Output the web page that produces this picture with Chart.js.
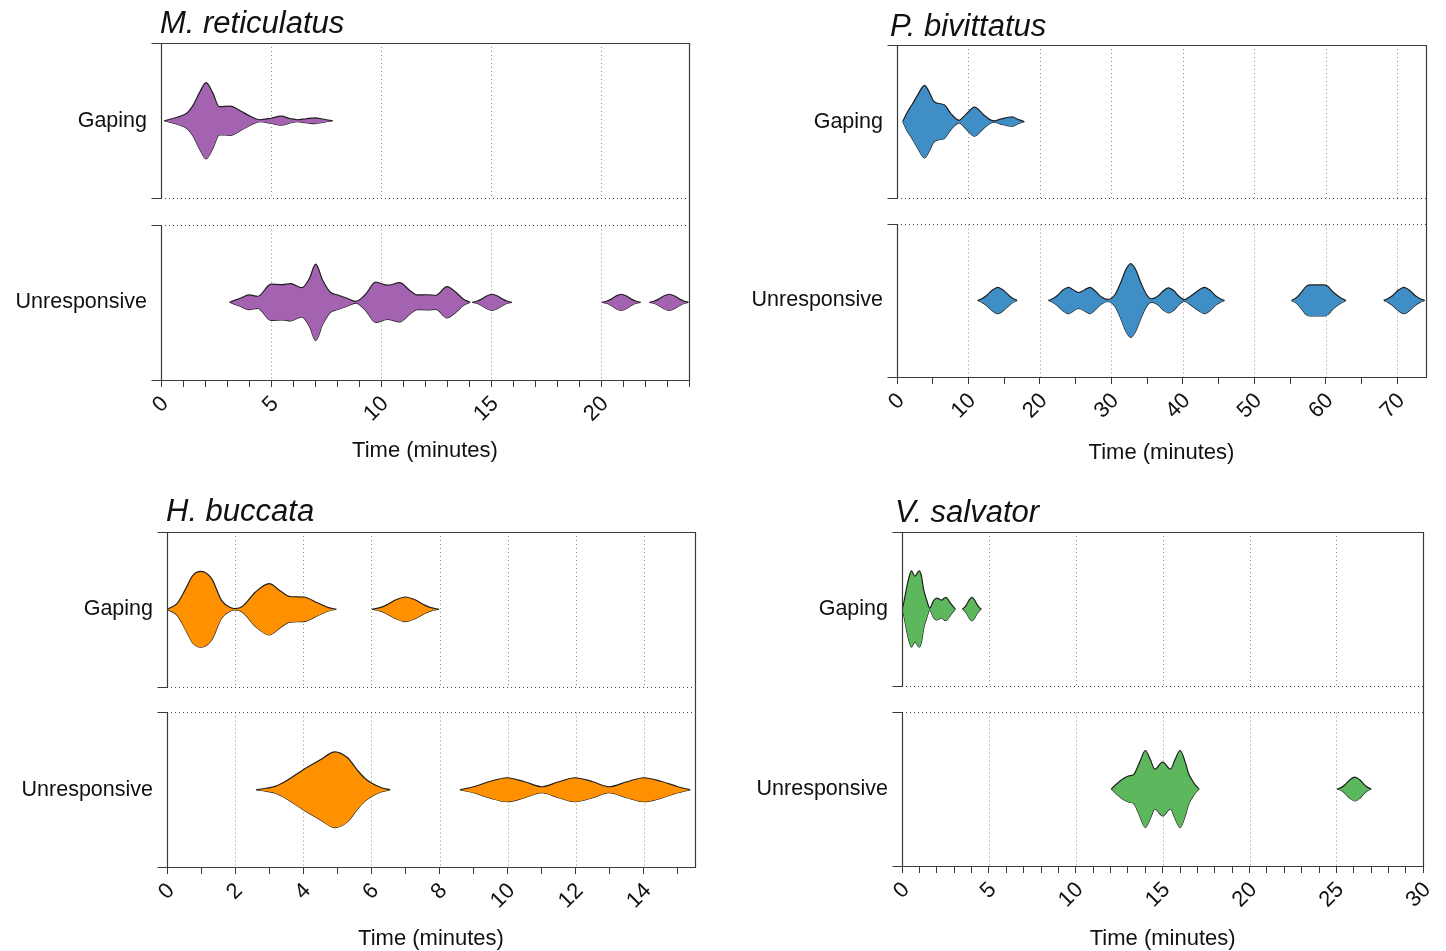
<!DOCTYPE html>
<html>
<head>
<meta charset="utf-8">
<title>Gaping and unresponsive duration</title>
<script src="https://cdn.jsdelivr.net/npm/chart.js@4.4.1/dist/chart.umd.min.js"></script>
<style>
  html, body { margin: 0; padding: 0; background: #fff; }
  .panel { position: absolute; }
</style>
</head>
<body>
<div class="panel" style="left:0;top:0"><canvas id="c1" width="723" height="476"></canvas></div>
<div class="panel" style="left:723px;top:0"><canvas id="c2" width="723" height="476"></canvas></div>
<div class="panel" style="left:0;top:476px"><canvas id="c3" width="723" height="475"></canvas></div>
<div class="panel" style="left:723px;top:476px"><canvas id="c4" width="723" height="475"></canvas></div>
<script>
// species and row labels
const species = ['M. reticulatus', 'P. bivittatus', 'H. buccata', 'V. salvator'];
const rowLabels = ['Unresponsive', 'Gaping'];

// x axis (minutes)
const xMax = [24, 74, 15.5, 30];
const xMinorStep = [1, 5, 1, 1];
const xLabelStep = [5, 10, 2, 5];

// violins: each one is a list of [time, half width of the density]
const mretGaping = [
  [[0.15,0],[0.8,4],[1.2,8],[1.45,15],[1.75,28],[2.05,38],[2.35,28],[2.65,14],[3.15,14.5],[3.6,10],[4.1,4],[4.5,1],[5.0,2.5],[5.45,4.5],[5.9,2],[6.2,1],[6.6,2],[7.0,2.8],[7.4,1.5],[7.8,0]]
];
const mretUnresp = [
  [[3.12,0],[3.6,4],[4.0,7.3],[4.4,6],[5.0,18],[5.5,17.5],[5.9,18.5],[6.4,14.5],[6.75,24],[7.03,38],[7.35,22],[7.7,10],[8.0,7.5],[8.45,4],[8.85,0.8],[9.3,8],[9.75,20],[10.3,17],[10.85,19.5],[11.3,12],[11.65,7.3],[12.1,7.5],[12.5,7],[13.0,15.5],[13.4,10],[13.75,3],[14.05,0]],
  [[14.15,0],[14.35,1],[14.55,2.9],[14.8,6.2],[15.05,8],[15.3,6.2],[15.55,2.9],[15.75,1],[15.95,0]],
  [[20.05,0],[20.25,1],[20.45,2.9],[20.68,6.2],[20.92,8],[21.16,6.2],[21.4,2.9],[21.6,1],[21.8,0]],
  [[22.2,0],[22.4,1],[22.6,2.9],[22.85,6.2],[23.1,8],[23.35,6.2],[23.6,2.9],[23.8,1],[23.97,0]]
];

const pbivGaping = [
  [[0.8,0],[1.4,9],[2.1,17],[2.9,27],[3.85,36.7],[4.5,30],[5.1,21],[5.7,18.5],[6.6,17],[7.6,7.5],[8.7,1.3],[9.6,7],[10.85,14.7],[12.1,7],[13.0,2],[13.6,0.7],[14.5,2.5],[16.1,4.7],[17.0,2],[17.8,0]]
];
const pbivUnresp = [
  [[11.3,0],[11.85,1.7],[12.5,4.8],[13.32,10.3],[14.1,13.3],[14.88,10.3],[15.7,4.8],[16.3,1.7],[16.8,0]],
  [[21.2,0],[21.7,1.5],[22.4,4.8],[23.2,10.3],[24.0,13.3],[24.7,10.5],[25.4,8],[26.2,10.5],[27.0,13.3],[27.8,9],[28.6,3.5],[29.5,1],[30.5,6],[31.4,20],[32.0,31],[32.7,37.3],[33.4,31],[34.0,20],[34.9,6],[35.6,1.7],[36.6,5],[37.3,10],[38.0,12.7],[38.7,10],[39.4,4.5],[40.2,0.8],[41.0,4],[42.2,10.3],[43.0,13.3],[43.8,10.3],[44.6,4.5],[45.3,1.5],[45.8,0]],
  [[55.2,0],[55.9,3],[56.6,8.5],[57.2,14],[57.7,15.7],[59.8,15.7],[60.3,14],[61.0,8.5],[62.0,3],[62.8,0]],
  [[68.1,0],[68.65,1.7],[69.3,4.8],[70.12,10.3],[70.9,13.3],[71.68,10.3],[72.5,4.8],[73.2,1.7],[73.8,0]]
];

const hbucGaping = [
  [[0.0,0],[0.3,6],[0.55,20.7],[0.76,34],[1.0,38],[1.31,30.7],[1.6,9],[1.86,1.7],[2.0,0.7],[2.22,3],[2.6,17.3],[3.0,25.7],[3.33,18.3],[3.6,12.8],[4.0,12.3],[4.43,6.3],[4.74,1.7],[4.97,0]],
  [[6.02,0],[6.25,1.6],[6.45,4.4],[6.72,9.5],[7.0,12.3],[7.28,9.5],[7.55,4.4],[7.75,1.6],[7.98,0]]
];
const hbucUnresp = [
  [[2.62,0],[2.9,1.5],[3.17,3.3],[3.6,11],[4.0,20],[4.5,30],[4.93,38],[5.3,32],[5.58,20],[5.8,11.7],[6.0,6.7],[6.3,2],[6.55,0]],
  [[8.6,0],[9.0,3],[9.5,8.5],[9.98,12],[10.5,8],[11.0,3],[11.5,8],[11.97,12],[12.5,8],[12.98,3],[13.5,8],[14.0,12],[14.5,8.5],[15.0,3],[15.36,0]]
];

const vsalGaping = [
  [[0.02,0],[0.12,8],[0.27,21.7],[0.42,33],[0.54,38.3],[0.74,33],[0.99,38.3],[1.12,33],[1.24,20],[1.42,9],[1.6,1],[1.81,8.3],[2.0,11],[2.27,9],[2.51,11.7],[2.83,5],[3.07,0]],
  [[3.48,0],[3.6,1.7],[3.72,4.5],[3.86,9],[4.02,11.7],[4.18,9],[4.32,4.5],[4.44,1.7],[4.56,0]]
];
const vsalUnresp = [
  [[12.05,0],[12.35,5],[12.7,10],[13.03,13],[13.35,15],[13.7,28],[14.0,38.7],[14.28,30],[14.55,20],[15.0,27],[15.45,20],[15.72,30],[16.0,38.7],[16.3,27],[16.5,15],[16.7,8.7],[16.9,3.5],[17.1,0]],
  [[25.05,0],[25.3,1.6],[25.5,4.4],[25.78,9.3],[26.06,12],[26.34,9.3],[26.6,4.4],[26.8,1.6],[27.0,0]]
];

const gapingData = [mretGaping, pbivGaping, hbucGaping, vsalGaping];
const unrespData = [mretUnresp, pbivUnresp, hbucUnresp, vsalUnresp];
const colors = ['#A463B0', '#3F8FC6', '#FF9100', '#5DB75D'];

// layout of the four panels (chart area inside each canvas)
const panels = [
  { id: 'c1', w: 723, h: 476, area: { l: 161, t: 43, r: 689, b: 380 }, titleX: 160, titleY: 33, titlePad: 14 },
  { id: 'c2', w: 723, h: 476, area: { l: 174, t: 45, r: 703, b: 377 }, titleX: 167, titleY: 36, titlePad: 12 },
  { id: 'c3', w: 723, h: 475, area: { l: 167, t: 56, r: 695, b: 391 }, titleX: 166, titleY: 45, titlePad: 1 },
  { id: 'c4', w: 723, h: 475, area: { l: 179, t: 56, r: 706, b: 390 }, titleX: 172, titleY: 46, titlePad: 1 }
];

const ROW_HALF = 0.4282;         // half height of one row in y units (rows sit at 0 and 1)
const K = ROW_HALF / 77.5;       // density width -> y units
const FONT = "'Liberation Sans', Arial, Helvetica, sans-serif";
Chart.defaults.font.family = FONT;

function violinSets(violins, center, color) {
  const out = [];
  violins.forEach(v => {
    out.push({
      data: v.map(p => ({ x: p[0], y: center + p[1] * K })),
      fill: '+1', backgroundColor: color
    });
    out.push({
      data: v.map(p => ({ x: p[0], y: center - p[1] * K })),
      fill: false, backgroundColor: color
    });
  });
  return out;
}

function crisp(v) { return Math.round(v) + 0.5; }

// dotted grid, broken left axis, frame and species title
const frame = {
  id: 'frame',
  beforeDatasetsDraw(chart) {
    const { ctx, chartArea: a, scales: { x, y } } = chart;
    const i = chart.options.plugins.frame.index;
    const gTop = crisp(y.getPixelForValue(1 - ROW_HALF));
    const gBot = crisp(y.getPixelForValue(ROW_HALF));
    ctx.save();
    ctx.lineWidth = 1;
    ctx.setLineDash([1, 3]);
    ctx.strokeStyle = '#8a8a8a';
    for (let v = xLabelStep[i]; v < xMax[i]; v += xLabelStep[i]) {
      const px = crisp(x.getPixelForValue(v));
      if (px >= a.right - 1) continue;
      ctx.beginPath();
      ctx.moveTo(px, a.top); ctx.lineTo(px, gTop);
      ctx.moveTo(px, gBot); ctx.lineTo(px, a.bottom);
      ctx.stroke();
    }
    ctx.strokeStyle = '#444';
    ctx.beginPath();
    ctx.moveTo(a.left, gTop); ctx.lineTo(a.right, gTop);
    ctx.moveTo(a.left, gBot); ctx.lineTo(a.right, gBot);
    ctx.stroke();
    ctx.restore();
  },
  afterDatasetsDraw(chart) {
    const { ctx, chartArea: a, scales: { y } } = chart;
    const o = chart.options.plugins.frame;
    const L = crisp(a.left), R = crisp(a.right), T = crisp(a.top), B = crisp(a.bottom);
    const gTop = crisp(y.getPixelForValue(1 - ROW_HALF));
    const gBot = crisp(y.getPixelForValue(ROW_HALF));
    ctx.save();
    ctx.strokeStyle = '#3a3a3a';
    ctx.lineWidth = 1.2;
    ctx.beginPath();
    ctx.moveTo(L - 10, T); ctx.lineTo(R, T); ctx.lineTo(R, B); ctx.lineTo(L - 10, B);
    ctx.moveTo(L, T); ctx.lineTo(L, gTop); ctx.lineTo(L - 10, gTop);
    ctx.moveTo(L - 10, gBot); ctx.lineTo(L, gBot); ctx.lineTo(L, B);
    ctx.stroke();
    ctx.fillStyle = '#111';
    ctx.font = 'italic 31px ' + FONT;
    ctx.textBaseline = 'alphabetic';
    ctx.textAlign = 'left';
    ctx.fillText(species[o.index], o.titleX, o.titleY);
    ctx.restore();
  }
};

panels.forEach((p, i) => {
  const datasets = [
    ...violinSets(gapingData[i], 1, colors[i]),
    ...violinSets(unrespData[i], 0, colors[i])
  ];
  new Chart(document.getElementById(p.id), {
    type: 'line',
    data: { datasets },
    options: {
      responsive: false,
      animation: false,
      devicePixelRatio: 1,
      layout: { padding: { top: p.area.t, right: p.w - p.area.r, left: 0, bottom: 0 } },
      elements: {
        point: { radius: 0 },
        line: { borderWidth: 1.2, borderColor: '#1e1e1e', cubicInterpolationMode: 'monotone' }
      },
      plugins: {
        legend: { display: false },
        tooltip: { enabled: false },
        frame: { index: i, titleX: p.titleX, titleY: p.titleY }
      },
      scales: {
        x: {
          type: 'linear',
          min: 0,
          max: xMax[i],
          afterFit: s => { s.height = p.h - p.area.b; },
          border: { display: false },
          grid: { drawOnChartArea: false, drawTicks: true, tickLength: 7, tickColor: '#3a3a3a' },
          ticks: {
            stepSize: xMinorStep[i],
            autoSkip: false,
            includeBounds: false,
            minRotation: 45,
            maxRotation: 45,
            padding: 4,
            labelOffset: 4,
            color: '#111',
            font: { size: 22 },
            callback: v => (Math.round(v) % xLabelStep[i] === 0 ? String(v) : '')
          },
          title: {
            display: true,
            text: 'Time (minutes)',
            color: '#111',
            font: { size: 22, lineHeight: 1 },
            padding: { top: 0, bottom: p.titlePad }
          }
        },
        y: {
          type: 'linear',
          min: -ROW_HALF,
          max: 1 + ROW_HALF,
          afterFit: s => { s.width = p.area.l; },
          afterBuildTicks: s => { s.ticks = [{ value: 0 }, { value: 1 }]; },
          border: { display: false },
          grid: { display: false, drawTicks: false },
          ticks: {
            padding: 14,
            color: '#111',
            font: { size: 21.5 },
            callback: v => rowLabels[v]
          }
        }
      }
    },
    plugins: [frame]
  });
});
</script>
</body>
</html>
